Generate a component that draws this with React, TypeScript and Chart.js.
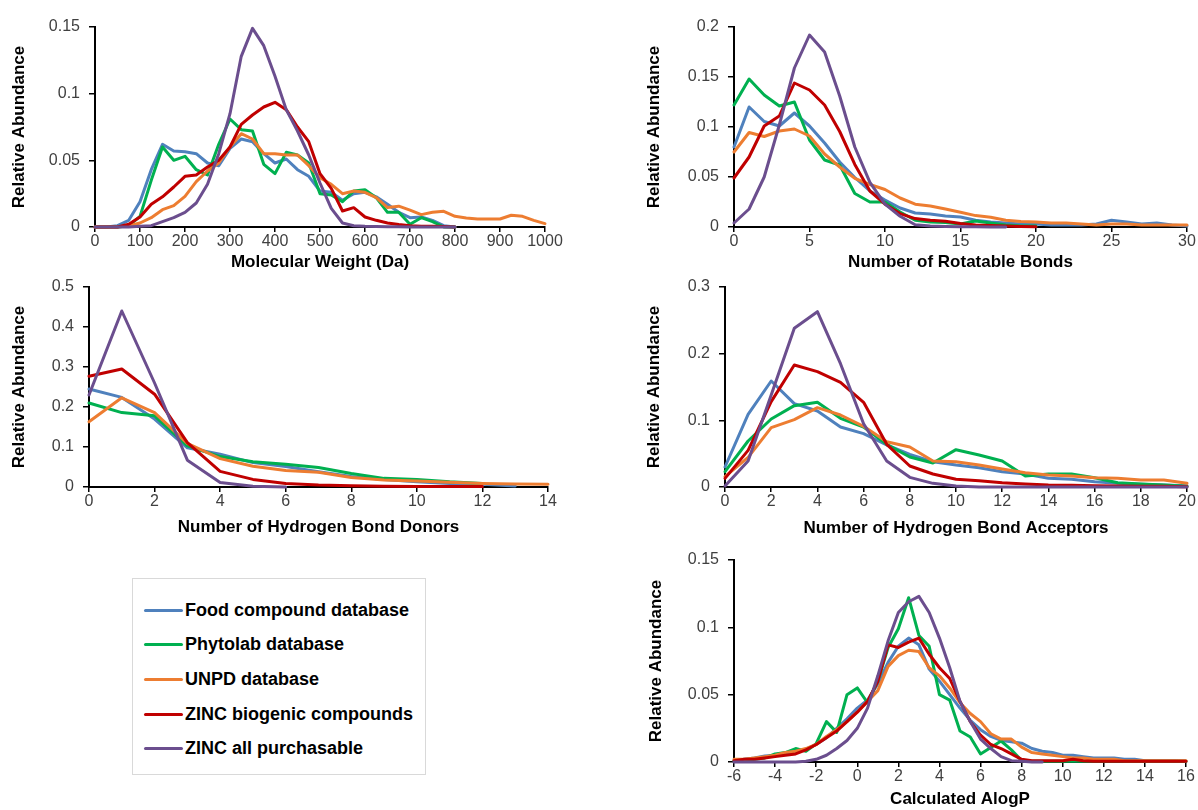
import React, { useEffect, useRef } from 'react';
import { Chart, registerables } from 'chart.js';

Chart.register(...registerables);

const FONT = '"Liberation Sans", Arial, sans-serif';

const seriesNames = ['Food compound database', 'Phytolab database', 'UNPD database', 'ZINC biogenic compounds', 'ZINC all purchasable'];
const seriesColors = ['#4F81BD', '#00B050', '#ED7D31', '#C00000', '#6B4E8E'];

// Panel 1: Molecular weight
const mwX = [0, 25, 50, 75, 100, 125, 150, 175, 200, 225, 250, 275, 300, 325, 350, 375, 400, 425, 450, 475, 500, 525, 550, 575, 600, 625, 650, 675, 700, 725, 750, 775, 800, 825, 850, 875, 900, 925, 950, 975, 1000];
const mwFood = [0, 0, 0.001, 0.005, 0.019, 0.043, 0.062, 0.057, 0.0565, 0.055, 0.048, 0.046, 0.059, 0.066, 0.064, 0.055, 0.048, 0.051, 0.043, 0.038, 0.027, 0.026, 0.02, 0.025, 0.026, 0.0226, 0.017, 0.011, 0.007, 0.0075, 0.005, 0.001, 0];
const mwPhyto = [0, 0, 0, 0.001, 0.008, 0.035, 0.06, 0.05, 0.053, 0.043, 0.039, 0.062, 0.081, 0.073, 0.072, 0.047, 0.04, 0.056, 0.054, 0.048, 0.025, 0.024, 0.019, 0.027, 0.028, 0.022, 0.011, 0.011, 0.002, 0.007, 0.004, 0, 0];
const mwUnpd = [0, 0, 0, 0.001, 0.003, 0.007, 0.013, 0.016, 0.023, 0.034, 0.042, 0.048, 0.06, 0.07, 0.066, 0.055, 0.055, 0.054, 0.054, 0.046, 0.037, 0.032, 0.025, 0.027, 0.026, 0.022, 0.0146, 0.0156, 0.0126, 0.0093, 0.011, 0.0118, 0.008, 0.0068, 0.006, 0.006, 0.006, 0.0088, 0.008, 0.005, 0.0025];
const mwZincBio = [0, 0, 0, 0.002, 0.0075, 0.017, 0.0226, 0.03, 0.038, 0.039, 0.045, 0.05, 0.06, 0.077, 0.084, 0.09, 0.0935, 0.088, 0.075, 0.064, 0.04, 0.029, 0.012, 0.0145, 0.0075, 0.005, 0.003, 0.0018, 0.001, 0.0005, 0.0005, 0.0003, 0];
const mwZincAll = [0, 0, 0, 0, 0.0005, 0.001, 0.004, 0.007, 0.011, 0.018, 0.032, 0.055, 0.085, 0.128, 0.149, 0.136, 0.113, 0.088, 0.072, 0.054, 0.033, 0.014, 0.003, 0.001, 0.0005, 0.0003, 0.0002, 0.0001, 0, 0, 0, 0, 0];

// Panel 2: Rotatable bonds
const rbX = [0, 1, 2, 3, 4, 5, 6, 7, 8, 9, 10, 11, 12, 13, 14, 15, 16, 17, 18, 19, 20, 21, 22, 23, 24, 25, 26, 27, 28, 29, 30];
const rbFood = [0.08, 0.12, 0.1055, 0.101, 0.114, 0.101, 0.084, 0.065, 0.0495, 0.036, 0.027, 0.019, 0.014, 0.013, 0.011, 0.01, 0.0067, 0.005, 0.004, 0.003, 0.003, 0.002, 0.002, 0.002, 0.003, 0.0067, 0.005, 0.003, 0.004, 0.002, 0.001];
const rbPhyto = [0.122, 0.148, 0.132, 0.121, 0.125, 0.087, 0.067, 0.062, 0.0335, 0.025, 0.025, 0.015, 0.0067, 0.005, 0.0045, 0.003, 0.006, 0.004, 0.002, 0.001, 0.001];
const rbUnpd = [0.075, 0.0945, 0.0905, 0.096, 0.098, 0.091, 0.073, 0.06, 0.0486, 0.0425, 0.0375, 0.029, 0.0228, 0.021, 0.018, 0.0147, 0.0114, 0.0097, 0.0067, 0.0054, 0.005, 0.004, 0.004, 0.003, 0.002, 0.003, 0.003, 0.002, 0.002, 0.002, 0.002];
const rbZincBio = [0.049, 0.07, 0.101, 0.111, 0.144, 0.137, 0.122, 0.0955, 0.0626, 0.036, 0.0228, 0.0134, 0.0084, 0.0067, 0.0057, 0.0034, 0.002, 0.0015, 0.001, 0.0005, 0.0003];
const rbZincAll = [0.004, 0.018, 0.05, 0.102, 0.159, 0.192, 0.175, 0.131, 0.08, 0.0446, 0.0228, 0.0107, 0.0023, 0.001, 0.0005, 0.0003, 0.0002, 0.0001, 0];

// Panel 3: Hydrogen bond donors
const hdX = [0, 1, 2, 3, 4, 5, 6, 7, 8, 9, 10, 11, 12, 13, 14];
const hdFood = [0.245, 0.224, 0.17, 0.098, 0.082, 0.061, 0.051, 0.038, 0.026, 0.019, 0.013, 0.009, 0.007, 0.0025];
const hdPhyto = [0.21, 0.186, 0.178, 0.103, 0.076, 0.063, 0.057, 0.049, 0.034, 0.0216, 0.019, 0.013, 0.009];
const hdUnpd = [0.163, 0.223, 0.186, 0.109, 0.071, 0.052, 0.041, 0.037, 0.024, 0.0175, 0.015, 0.0116, 0.009, 0.0075, 0.0067];
const hdZincBio = [0.277, 0.295, 0.232, 0.111, 0.039, 0.019, 0.009, 0.005, 0.003, 0.002, 0.0015, 0.001, 0.001];
const hdZincAll = [0.23, 0.44, 0.26, 0.067, 0.011, 0.002, 0];

// Panel 4: Hydrogen bond acceptors
const haX = [0, 1, 2, 3, 4, 5, 6, 7, 8, 9, 10, 11, 12, 13, 14, 15, 16, 17, 18, 19, 20];
const haFood = [0.03, 0.109, 0.159, 0.125, 0.114, 0.09, 0.08, 0.063, 0.049, 0.038, 0.033, 0.029, 0.023, 0.0195, 0.013, 0.0115, 0.008, 0.0055, 0.004, 0.003, 0.002];
const haPhyto = [0.023, 0.069, 0.102, 0.122, 0.127, 0.103, 0.09, 0.064, 0.045, 0.036, 0.056, 0.048, 0.039, 0.0165, 0.0195, 0.0195, 0.014, 0.0065, 0.0045, 0.003, 0.001];
const haUnpd = [0.0155, 0.0445, 0.089, 0.101, 0.119, 0.108, 0.091, 0.068, 0.06, 0.039, 0.038, 0.033, 0.027, 0.0215, 0.018, 0.0165, 0.014, 0.013, 0.0105, 0.0105, 0.0055];
const haZincBio = [0.013, 0.055, 0.128, 0.183, 0.173, 0.157, 0.127, 0.064, 0.0315, 0.0195, 0.0115, 0.0095, 0.0065, 0.0045, 0.003, 0.0025, 0.002, 0.0015, 0.001, 0.001, 0.0005];
const haZincAll = [0.0015, 0.039, 0.138, 0.238, 0.263, 0.185, 0.095, 0.039, 0.0145, 0.0055, 0.0015, 0, 0, 0, 0, 0, 0, 0, 0, 0, 0];

// Panel 5: Calculated AlogP
const lpX = [-6, -5.5, -5, -4.5, -4, -3.5, -3, -2.5, -2, -1.5, -1, -0.5, 0, 0.5, 1, 1.5, 2, 2.5, 3, 3.5, 4, 4.5, 5, 5.5, 6, 6.5, 7, 7.5, 8, 8.5, 9, 9.5, 10, 10.5, 11, 11.5, 12, 12.5, 13, 13.5, 14, 14.5, 15, 15.5, 16];
const lpFood = [0.001, 0.002, 0.003, 0.0045, 0.005, 0.006, 0.007, 0.0095, 0.013, 0.018, 0.025, 0.032, 0.04, 0.046, 0.058, 0.074, 0.086, 0.092, 0.087, 0.069, 0.06, 0.05, 0.04, 0.031, 0.024, 0.019, 0.016, 0.015, 0.014, 0.01, 0.008, 0.007, 0.005, 0.005, 0.004, 0.003, 0.003, 0.003, 0.002, 0.002, 0.001, 0.001, 0.001, 0.001, 0.0005];
const lpPhyto = [0.001, 0.001, 0.002, 0.003, 0.006, 0.007, 0.01, 0.008, 0.0136, 0.03, 0.022, 0.05, 0.055, 0.044, 0.06, 0.085, 0.099, 0.122, 0.094, 0.086, 0.05, 0.046, 0.023, 0.0186, 0.006, 0.0107, 0.0156, 0.009, 0.001, 0.0005, 0.0005, 0.0005, 0.0005, 0.0005, 0.0005, 0.0005, 0.0005, 0.0005, 0.0005, 0.0005, 0.0005, 0.0005, 0.0005, 0.0005, 0.0005];
const lpUnpd = [0.002, 0.002, 0.003, 0.004, 0.005, 0.007, 0.008, 0.01, 0.013, 0.019, 0.024, 0.03, 0.037, 0.045, 0.053, 0.071, 0.079, 0.083, 0.082, 0.07, 0.064, 0.055, 0.044, 0.036, 0.03, 0.021, 0.017, 0.017, 0.011, 0.007, 0.006, 0.005, 0.004, 0.003, 0.003, 0.002, 0.002, 0.002, 0.001, 0.001, 0.001, 0.001, 0.001, 0.001, 0.001];
const lpZincBio = [0.001, 0.002, 0.002, 0.003, 0.004, 0.005, 0.006, 0.009, 0.013, 0.018, 0.023, 0.03, 0.037, 0.045, 0.06, 0.087, 0.085, 0.089, 0.092, 0.08, 0.07, 0.062, 0.045, 0.03, 0.02, 0.013, 0.01, 0.006, 0.002, 0.001, 0.001, 0.001, 0.001, 0.002, 0.001, 0.0005, 0.0005, 0.0005, 0.0005, 0.0005, 0.0005, 0.0005, 0.0005, 0.0005, 0.0005];
const lpZincAll = [0, 0, 0, 0, 0, 0, 0, 0.0005, 0.002, 0.005, 0.01, 0.016, 0.025, 0.04, 0.064, 0.09, 0.111, 0.119, 0.123, 0.111, 0.092, 0.07, 0.045, 0.03, 0.017, 0.01, 0.004, 0.001, 0.0005, 0, 0];

type Panel = {
  x: number[];
  series: number[][];
  xTitle: string;
  xMin: number; xMax: number; xStep: number;
  yMax: number; yStep: number;
  // layout (page px)
  left: number; top: number; width: number; height: number;
  yAxisWidth: number; xAxisHeight: number; padRight: number;
};

const panels: Panel[] = [
  { x: mwX, series: [mwFood, mwPhyto, mwUnpd, mwZincBio, mwZincAll], xTitle: 'Molecular Weight (Da)',
    xMin: 0, xMax: 1000, xStep: 100, yMax: 0.15, yStep: 0.05,
    left: 9, top: 7, width: 560, height: 265, yAxisWidth: 86, xAxisHeight: 45, padRight: 24 },
  { x: rbX, series: [rbFood, rbPhyto, rbUnpd, rbZincBio, rbZincAll], xTitle: 'Number of Rotatable Bonds',
    xMin: 0, xMax: 30, xStep: 5, yMax: 0.2, yStep: 0.05,
    left: 644, top: 7, width: 554, height: 265, yAxisWidth: 90, xAxisHeight: 45, padRight: 11 },
  { x: hdX, series: [hdFood, hdPhyto, hdUnpd, hdZincBio, hdZincAll], xTitle: 'Number of Hydrogen Bond Donors',
    xMin: 0, xMax: 14, xStep: 2, yMax: 0.5, yStep: 0.1,
    left: 9, top: 267, width: 563, height: 270, yAxisWidth: 80, xAxisHeight: 50, padRight: 24 },
  { x: haX, series: [haFood, haPhyto, haUnpd, haZincBio, haZincAll], xTitle: 'Number of Hydrogen Bond Acceptors',
    xMin: 0, xMax: 20, xStep: 2, yMax: 0.3, yStep: 0.1,
    left: 644, top: 267, width: 554, height: 271, yAxisWidth: 81, xAxisHeight: 51, padRight: 11 },
  { x: lpX, series: [lpFood, lpPhyto, lpUnpd, lpZincBio, lpZincAll], xTitle: 'Calculated AlogP',
    xMin: -6, xMax: 16, xStep: 2, yMax: 0.15, yStep: 0.05,
    left: 646, top: 540, width: 551, height: 269, yAxisWidth: 88, xAxisHeight: 47, padRight: 11 },
];

const fmt = (v: any) => String(+Number(v).toFixed(4));

function PanelChart({ p }: { p: Panel }) {
  const ref = useRef<HTMLCanvasElement>(null);
  useEffect(() => {
    if (!ref.current) return;
    const datasets = p.series.map((ys, i) => ({
      label: seriesNames[i],
      data: ys.map((y, j) => ({ x: p.x[j], y })),
      borderColor: seriesColors[i],
      backgroundColor: seriesColors[i],
      borderWidth: 3,
      pointRadius: 0,
      pointHoverRadius: 0,
      tension: 0,
      fill: false,
      clip: false as any,
      order: 5 - i,
      borderJoinStyle: 'round' as const,
      borderCapStyle: 'round' as const,
    }));
    const tickFont = { family: FONT, size: 16 };
    const titleFont = { family: FONT, size: 17, weight: 'bold' as const, lineHeight: '20px' };
    const chart = new Chart(ref.current, {
      type: 'line',
      data: { datasets },
      options: {
        responsive: false,
        animation: false,
        devicePixelRatio: 1,
        layout: { padding: { left: 0, top: 20, right: p.padRight, bottom: 0 } },
        plugins: { legend: { display: false }, tooltip: { enabled: false } },
        scales: {
          x: {
            type: 'linear',
            min: p.xMin,
            max: p.xMax,
            ticks: { stepSize: p.xStep, color: '#404040', font: tickFont, padding: 0, maxRotation: 0, autoSkip: false, callback: fmt },
            grid: { display: true, drawOnChartArea: false, drawTicks: true, tickLength: 5, color: '#000', lineWidth: 1.5 },
            border: { display: true, color: '#000', width: 2 },
            title: { display: true, text: p.xTitle, color: '#000', font: titleFont, padding: 0 },
            afterFit: (s: any) => { s.height = p.xAxisHeight; },
          },
          y: {
            type: 'linear',
            min: 0,
            max: p.yMax,
            ticks: { stepSize: p.yStep, color: '#404040', font: tickFont, padding: 9, callback: fmt },
            grid: { display: true, drawOnChartArea: false, drawTicks: true, tickLength: 6, color: '#000', lineWidth: 1.5 },
            border: { display: true, color: '#000', width: 2 },
            title: { display: true, text: 'Relative Abundance', color: '#000', font: titleFont, padding: 0 },
            afterFit: (s: any) => { s.width = p.yAxisWidth; },
          },
        },
      },
    });
    return () => chart.destroy();
  }, [p]);
  return (
    <canvas
      ref={ref}
      width={p.width}
      height={p.height}
      style={{ position: 'absolute', left: p.left, top: p.top, width: p.width, height: p.height }}
    />
  );
}

const legendLeft = 132;
const legendTop = 578;
const legendRowCenters = [31, 65, 100, 135, 169];

function Legend() {
  return (
    <div
      style={{
        position: 'absolute', left: legendLeft, top: legendTop, width: 294, height: 197,
        border: '1px solid #D9D9D9', boxSizing: 'border-box', background: '#fff',
      }}
    >
      {seriesNames.map((name, i) => (
        <div
          key={name}
          style={{
            position: 'absolute', left: 11, top: legendRowCenters[i] - 12, height: 24,
            display: 'flex', alignItems: 'center', whiteSpace: 'nowrap',
          }}
        >
          <div style={{ width: 39, height: 3, background: seriesColors[i], borderRadius: 1.5 }} />
          <span style={{ marginLeft: 2, fontFamily: FONT, fontWeight: 'bold', fontSize: 18, color: '#000', lineHeight: '24px' }}>
            {name}
          </span>
        </div>
      ))}
    </div>
  );
}

export default function App() {
  return (
    <div style={{ position: 'fixed', left: 0, top: 0, width: 1198, height: 810, background: '#fff', overflow: 'hidden' }}>
      {panels.map((p, i) => (
        <PanelChart key={i} p={p} />
      ))}
      <Legend />
    </div>
  );
}
